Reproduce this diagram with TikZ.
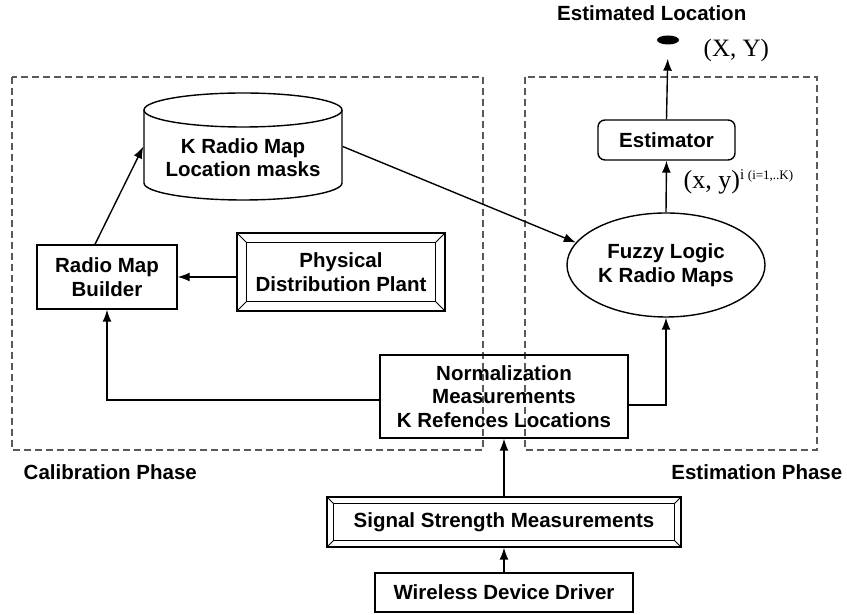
\documentclass[tikz,border=0pt]{standalone}
\usepackage{fontspec}
\setmainfont{Liberation Sans}
\newfontfamily\timesfont{Liberation Serif}
\usetikzlibrary{arrows.meta,shapes.geometric}
\newcommand\bevel[2]{%
  \draw[line width=0.8pt] ([shift={(#2,-#2)}]#1.north west) rectangle ([shift={(-#2,#2)}]#1.south east);
  \foreach \c/\dx/\dy in {north west/1/-1,north east/-1/-1,south west/1/1,south east/-1/1}
    \draw[line width=0.8pt] (#1.\c) -- ++(\dx*#2,\dy*#2);}

\begin{document}
\begin{tikzpicture}[x=1pt,y=1pt,line width=1.4pt,
    >={Latex[length=12pt,width=9pt]},
    box/.style={draw,align=center,inner sep=0pt,font=\fontsize{20.5}{23.5}\selectfont\bfseries},
    lbl/.style={inner sep=0pt,font=\fontsize{20.5}{23.5}\selectfont\bfseries},
    phase/.style={draw=black!65,dash pattern=on 7pt off 4pt,line width=1.4pt}]
        \useasboundingbox (0,0) rectangle (847,615);
        % the two phases
        \draw[phase] (12,538) rectangle (483,165);
        \draw[phase] (525,538) rectangle (817,165);
        \node[lbl,anchor=west] (CALIB) at (23,143) {Calibration Phase};
        \node[lbl,anchor=east] (ESTIM) at (843,143) {Estimation Phase};
        % estimation
        \node[lbl,anchor=east] (LOC) at (747,602) {Estimated Location};
        \node[ellipse,fill,minimum width=22pt,minimum height=9pt,inner sep=0pt] (DOT) at (668,575) {};
        \node[anchor=west,inner sep=0pt,font=\timesfont\fontsize{25}{25}\selectfont] (XY) at (703,565) {(X, Y)};
        \node[box,rounded corners=7pt,minimum width=137pt,minimum height=40pt] (EST) at (666.5,475) {Estimator};
        \node[box,ellipse,minimum width=198pt,minimum height=104pt] (FUZZY) at (666,350) {Fuzzy Logic\\K Radio Maps};
        \node[anchor=west,inner sep=0pt,font=\timesfont\fontsize{26}{26}\selectfont] (XYI) at (683,433)
            {(x, y)\raisebox{9pt}{\fontsize{15}{15}\selectfont i \fontsize{13}{13}\selectfont(i=1,..K)}};
        % calibration
        \node[box,draw=none,minimum width=198pt] (MAP) at (243,457.5) {K Radio Map\\Location masks};
        \draw ([shift={(-99,47.5)}]MAP.center) -- ([shift={(-99,-25.5)}]MAP.center)
            arc[start angle=180,end angle=360,x radius=99,y radius=17] -- ([shift={(99,47.5)}]MAP.center);
        \draw ([shift={(0,47.5)}]MAP.center) ellipse[x radius=99,y radius=17];
        \node[box,minimum width=140pt,minimum height=64pt] (BUILD) at (107,338) {Radio Map\\Builder};
        \node[box,minimum width=208pt,minimum height=78pt] (PLANT) at (341,343) {Physical\\Distribution Plant};
        \bevel{PLANT}{10}
        \node[box,minimum width=248pt,minimum height=83pt] (NORM) at (504,218.5) {Normalization\\Measurements\\K Refences Locations};
        \node[box,minimum width=354pt,minimum height=50pt] (SIGNAL) at (504,93) {Signal Strength Measurements};
        \bevel{SIGNAL}{7}
        \node[box,minimum width=258pt,minimum height=39pt] (DRIVER) at (504,22.5) {Wireless Device Driver};
        % connectors
        \draw[->] ([xshift=-12pt]BUILD.north)--([yshift=11pt]MAP.west);
        \draw[->] (PLANT.west |- BUILD.east)--(BUILD.east);
        \draw[->] ([yshift=11pt]MAP.east)--(FUZZY.166);
        \draw[->] ([yshift=-3.5pt]NORM.west) -| (BUILD.south);
        \draw[->] ([yshift=-8.5pt]NORM.east) -| (FUZZY.south);
        \draw[->] (FUZZY.north)--(EST.south);
        \draw[->,shorten >=13.5pt] (EST.north)--(DOT.south);
        \draw[->] (SIGNAL.north)--(NORM.south);
        \draw[->] (DRIVER.north)--(SIGNAL.south);
    \end{tikzpicture}
\end{document}
